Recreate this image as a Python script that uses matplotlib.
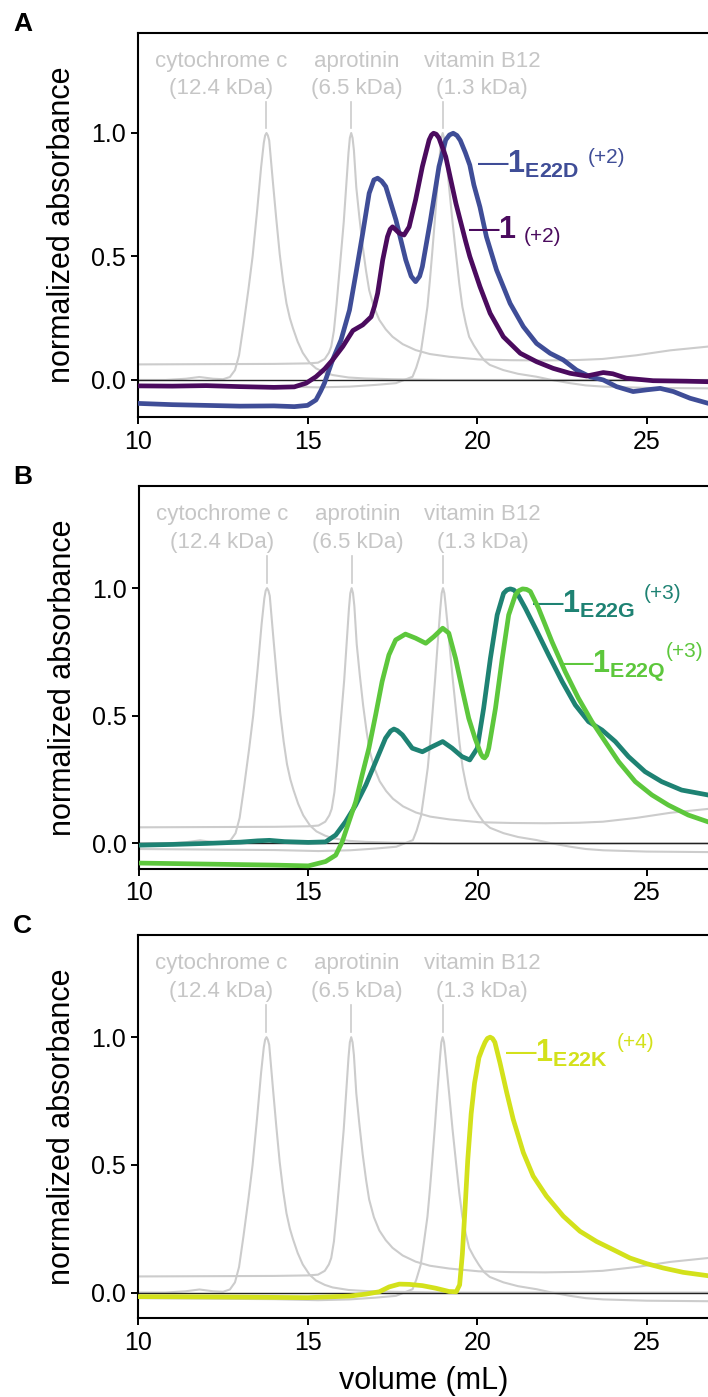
import numpy as np
import matplotlib
matplotlib.use('Agg')
import matplotlib.pyplot as plt

plt.rcParams['font.family'] = ['Liberation Sans', 'DejaVu Sans']
plt.rcParams['mathtext.fontset'] = 'custom'
plt.rcParams['mathtext.rm'] = 'Liberation Sans'
plt.rcParams['mathtext.bf'] = 'Liberation Sans:bold'

# ---- standards (gray, same in every panel) ----
cyt_x = [10.0, 10.8, 11.4, 11.8, 12.2, 12.5, 12.7, 12.85, 12.97, 13.1, 13.25, 13.37, 13.5, 13.62, 13.7,
         13.74, 13.78, 13.82, 13.86, 13.97, 14.07, 14.17, 14.27, 14.37, 14.47, 14.56, 14.7, 14.85,
         15.05, 15.24, 15.5, 15.73, 16.2, 16.7, 17.5, 19.0, 22.0, 26.8]
cyt_y = [0.0, 0.0, 0.005, 0.012, 0.005, 0.003, 0.012, 0.04, 0.1, 0.22, 0.37, 0.5, 0.68, 0.86, 0.96,
         0.99, 1.0, 0.99, 0.97, 0.80, 0.65, 0.51, 0.40, 0.31, 0.25, 0.21, 0.155, 0.11,
         0.07, 0.047, 0.03, 0.02, 0.01, 0.006, 0.003, 0.0, 0.0, 0.0]

apro_x = [10.0, 12.0, 14.0, 15.0, 15.3, 15.5, 15.62, 15.69, 15.77, 15.85, 15.98, 16.06, 16.13, 16.2,
          16.24, 16.28, 16.32, 16.36, 16.43, 16.52, 16.62, 16.72, 16.81, 16.95, 17.11, 17.3, 17.5,
          17.8, 18.18, 18.6, 19.17, 20.05, 21.0, 22.0, 23.0, 23.7, 24.7, 25.7, 26.8]
apro_y = [0.063, 0.064, 0.065, 0.067, 0.07, 0.085, 0.11, 0.135, 0.2, 0.31, 0.513, 0.64, 0.78, 0.92,
          0.98, 1.0, 0.98, 0.93, 0.78, 0.66, 0.54, 0.44, 0.364, 0.295, 0.243, 0.205, 0.175,
          0.145, 0.121, 0.105, 0.094, 0.083, 0.08, 0.079, 0.081, 0.085, 0.1, 0.12, 0.135]

b12_x = [10.0, 12.0, 14.0, 15.3, 16.23, 17.0, 17.6, 18.09, 18.2, 18.33, 18.43, 18.53, 18.6, 18.67,
         18.75, 18.82, 18.9, 18.94, 18.98, 19.02, 19.06, 19.17, 19.27, 19.37, 19.47, 19.56, 19.66,
         19.76, 19.9, 20.05, 20.2, 20.37, 20.77, 21.2, 21.75, 22.2, 22.74, 23.2, 23.72, 25.0, 26.8]
b12_y = [-0.022, -0.024, -0.026, -0.03, -0.027, -0.02, -0.013, 0.013, 0.05, 0.108, 0.2, 0.297, 0.4,
         0.513, 0.65, 0.78, 0.92, 0.98, 1.0, 0.98, 0.93, 0.78, 0.64, 0.513, 0.39, 0.297, 0.23,
         0.175, 0.14, 0.108, 0.08, 0.061, 0.04, 0.025, 0.013, 0.0, -0.013, -0.022, -0.027, -0.032,
         -0.034]

std_names = ['cytochrome c', 'aprotinin', 'vitamin B12']
std_mass = ['(12.4 kDa)', '(6.5 kDa)', '(1.3 kDa)']
std_peak = [13.78, 16.28, 18.98]
std_text_x = [12.45, 16.45, 20.15]

# ---- panel A ----
wt_x = [10.0, 11.0, 12.0, 13.0, 14.0, 14.6, 14.95, 15.24, 15.5, 15.73, 16.03, 16.33, 16.62, 16.87,
        16.97, 17.06, 17.21, 17.35, 17.43, 17.5, 17.58, 17.7, 17.84, 17.99, 18.18, 18.38, 18.58,
        18.65, 18.71, 18.79, 18.87, 19.07, 19.37, 19.66, 19.78, 20.08, 20.38, 20.77, 21.27, 21.75,
        22.24, 22.74, 23.23, 23.72, 24.0, 24.4, 25.19, 26.17, 26.8]
wt_y = [-0.024, -0.025, -0.023, -0.027, -0.03, -0.028, -0.013, 0.013, 0.045, 0.081, 0.135, 0.2,
        0.223, 0.256, 0.3, 0.351, 0.486, 0.58, 0.61, 0.62, 0.61, 0.594, 0.587, 0.62, 0.729, 0.864,
        0.972, 0.992, 0.999, 0.995, 0.98, 0.904, 0.715, 0.56, 0.5, 0.378, 0.27, 0.175, 0.108,
        0.074, 0.047, 0.027, 0.016, 0.03, 0.025, 0.007, -0.003, -0.005, -0.007]

e22d_x = [10.0, 11.0, 12.0, 13.0, 14.0, 14.6, 14.99, 15.24, 15.38, 15.49, 15.73, 15.98, 16.23, 16.42,
          16.62, 16.81, 16.95, 17.06, 17.18, 17.3, 17.6, 17.89, 18.05, 18.18, 18.3, 18.38, 18.62,
          18.87, 19.07, 19.18, 19.29, 19.4, 19.5, 19.65, 19.78, 19.9, 20.08, 20.27, 20.57, 20.97,
          21.36, 21.75, 22.15, 22.54, 22.93, 23.33, 23.72, 24.11, 24.6, 25.0, 25.4, 25.79, 26.28,
          26.8]
e22d_y = [-0.095, -0.1, -0.103, -0.106, -0.105, -0.108, -0.103, -0.081, -0.045, -0.013, 0.081, 0.162,
          0.283, 0.432, 0.594, 0.756, 0.81, 0.817, 0.805, 0.783, 0.648, 0.486, 0.42, 0.398, 0.42,
          0.459, 0.648, 0.864, 0.972, 0.992, 0.999, 0.99, 0.97, 0.92, 0.87, 0.79, 0.70, 0.58,
          0.445, 0.31, 0.216, 0.148, 0.108, 0.081, 0.04, 0.013, 0.0, -0.027, -0.047, -0.04, -0.034,
          -0.047, -0.074, -0.094]

# ---- panel B ----
e22g_x = [10.0, 11.0, 12.0, 13.0, 13.5, 13.85, 14.3, 15.0, 15.51, 15.81, 16.1, 16.4, 16.7, 16.99,
          17.28, 17.43, 17.53, 17.63, 17.78, 18.07, 18.37, 18.66, 18.97, 19.25, 19.54, 19.77, 19.99,
          20.18, 20.38, 20.58, 20.77, 20.87, 20.97, 21.07, 21.17, 21.41, 21.71, 22.1, 22.5, 22.89,
          23.28, 23.68, 24.07, 24.46, 24.95, 25.44, 26.03, 26.8]
e22g_y = [-0.007, -0.004, 0.0, 0.005, 0.01, 0.012, 0.007, 0.004, 0.006, 0.033, 0.085, 0.15, 0.229,
          0.32, 0.412, 0.44, 0.448, 0.442, 0.425, 0.373, 0.359, 0.379, 0.399, 0.373, 0.34, 0.327,
          0.372, 0.529, 0.725, 0.895, 0.98, 0.993, 0.997, 0.993, 0.98, 0.922, 0.843, 0.738, 0.634,
          0.542, 0.477, 0.444, 0.399, 0.34, 0.281, 0.242, 0.209, 0.19]

e22q_x = [10.0, 11.0, 12.0, 13.0, 14.0, 15.0, 15.51, 15.81, 16.0, 16.2, 16.4, 16.59, 16.79, 16.99,
          17.18, 17.38, 17.58, 17.87, 18.17, 18.47, 18.71, 18.97, 19.15, 19.35, 19.54, 19.74, 19.93,
          20.1, 20.16, 20.21, 20.27, 20.33, 20.53, 20.73, 20.92, 21.12, 21.22, 21.33, 21.45, 21.56,
          21.8, 22.2, 22.59, 22.98, 23.38, 23.77, 24.17, 24.66, 25.15, 25.64, 26.23, 26.8]
e22q_y = [-0.077, -0.079, -0.081, -0.083, -0.085, -0.088, -0.071, -0.046, 0.006, 0.085, 0.163, 0.268,
          0.373, 0.504, 0.634, 0.738, 0.797, 0.82, 0.804, 0.784, 0.81, 0.843, 0.824, 0.725, 0.608,
          0.49, 0.41, 0.35, 0.338, 0.335, 0.345, 0.372, 0.529, 0.725, 0.895, 0.974, 0.99, 0.997,
          0.995, 0.987, 0.922, 0.79, 0.673, 0.569, 0.477, 0.399, 0.32, 0.242, 0.19, 0.15, 0.111,
          0.085]

# ---- panel C ----
e22k_x = [10.0, 12.0, 14.0, 15.0, 16.23, 16.72, 17.11, 17.4, 17.7, 17.99, 18.38, 18.77, 19.17, 19.38,
          19.48, 19.56, 19.64, 19.72, 19.82, 19.92, 20.05, 20.15, 20.23, 20.3, 20.38, 20.45, 20.52,
          20.67, 20.87, 21.06, 21.36, 21.65, 22.04, 22.54, 23.03, 23.52, 24.01, 24.51, 25.0, 25.49,
          26.08, 26.8]
e22k_y = [-0.016, -0.017, -0.019, -0.02, -0.014, -0.006, 0.003, 0.022, 0.033, 0.032, 0.027, 0.017,
          0.004, 0.003, 0.03, 0.15, 0.33, 0.52, 0.7, 0.82, 0.92, 0.955, 0.98, 0.995, 1.0, 0.995,
          0.98, 0.9, 0.783, 0.679, 0.548, 0.456, 0.378, 0.299, 0.24, 0.2, 0.168, 0.135, 0.113,
          0.096, 0.079, 0.066]

col_wt = '#4B0B5E'
col_d = '#3F4D97'
col_g = '#1E8273'
col_q = '#5DC73C'
col_k = '#D3E11B'
gray = '#CCCCCC'
gray_txt = '#C6C6C6'

fig = plt.figure(figsize=(7.08, 13.97), dpi=100)
boxes = [[0.1955, 0.7015, 0.8045, 0.2749],
         [0.1965, 0.3780, 0.8035, 0.2741],
         [0.1955, 0.0565, 0.8045, 0.2742]]
ylims = [(-0.15, 1.405), (-0.1, 1.4), (-0.1, 1.4)]
axes = []

for i in range(3):
    ax = fig.add_axes(boxes[i])
    for gx, gy in [(cyt_x, cyt_y), (apro_x, apro_y), (b12_x, b12_y)]:
        ax.plot(gx, gy, color=gray, lw=1.5, zorder=1, solid_joinstyle='round')
    ax.axhline(0, color='#222222', lw=1.0, zorder=2)
    for k in range(3):
        ax.plot([std_peak[k], std_peak[k]], [1.02, 1.125], color=gray, lw=1.2)
        ax.text(std_text_x[k], 1.29, std_names[k], color=gray_txt, fontsize=16,
                ha='center', va='center')
        ax.text(std_text_x[k], 1.18, std_mass[k], color=gray_txt, fontsize=16,
                ha='center', va='center')
    ax.set_xlim(10, 26.81)
    ax.set_ylim(*ylims[i])
    ax.set_xticks([10, 15, 20, 25])
    ax.set_yticks([0, 0.5, 1.0])
    ax.set_yticklabels(['0.0', '0.5', '1.0'])
    ax.tick_params(labelsize=18, width=1.4, length=5, pad=4)
    ax.spines['right'].set_visible(False)
    for s in ['left', 'top', 'bottom']:
        ax.spines[s].set_linewidth(1.5)
    ax.set_ylabel('normalized absorbance', fontsize=22, labelpad=10)
    axes.append(ax)

lw = 3.4
axA, axB, axC = axes
axA.plot(wt_x, wt_y, color=col_wt, lw=lw, zorder=4, solid_joinstyle='round')
axA.plot(e22d_x, e22d_y, color=col_d, lw=lw, zorder=3, solid_joinstyle='round')
axB.plot(e22g_x, e22g_y, color=col_g, lw=lw, zorder=3, solid_joinstyle='round')
axB.plot(e22q_x, e22q_y, color=col_q, lw=lw, zorder=4, solid_joinstyle='round')
axC.plot(e22k_x, e22k_y, color=col_k, lw=lw, zorder=3, solid_joinstyle='round')
axC.set_xlabel('volume (mL)', fontsize=22, labelpad=8)


def tag(ax, x, y, sub, charge, color, dy=0.55, gap=6):
    if sub:
        s = '—$\\mathbf{1}_{\\mathbf{%s}}$' % sub
    else:
        s = '—$\\mathbf{1}$'
    t = ax.text(x, y, s, color=color, fontsize=22, ha='left', va='baseline')
    ax.annotate(charge, xy=(1, dy), xycoords=t, xytext=(gap, 0), textcoords='offset points',
                color=color, fontsize=15, ha='left', va='center')


tag(axA, 19.99, 0.837, 'E22D', '(+2)', col_d, dy=0.72)
tag(axA, 19.73, 0.574, '', '(+2)', col_wt, dy=0.3, gap=5)
tag(axB, 21.61, 0.902, 'E22G', '(+3)', col_g, dy=0.85)
tag(axB, 22.5, 0.673, 'E22Q', '(+3)', col_q, dy=0.9, gap=0)
tag(axC, 20.82, 0.902, 'E22K', '(+4)', col_k, dy=0.85)

for lab, ytop in zip(['A', 'B', 'C'], [12, 465, 914]):
    fig.text(13 / 708, 1 - ytop / 1397, lab, fontsize=19, fontweight='bold', va='top', ha='left')

fig.savefig('out.png', dpi=100)
